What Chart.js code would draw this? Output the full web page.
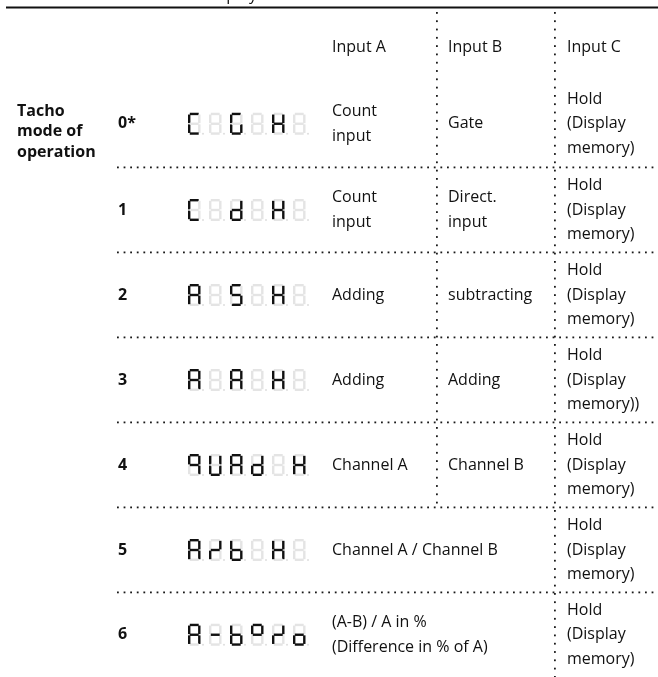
<!DOCTYPE html>
<html><head><meta charset="utf-8">
<script src="https://cdn.jsdelivr.net/npm/chart.js@4"></script>
<style>html,body{margin:0;padding:0;background:#fff;}canvas{display:block}</style>
</head><body>
<canvas id="c" width="658" height="677"></canvas>
<script>
// ---- data ----
const topHeader = 'Display';
const headers = ['Input A', 'Input B', 'Input C'];
const sideLabel = ['Tacho', 'mode of', 'operation'];
const modes = ['0*', '1', '2', '3', '4', '5', '6'];
const displays = [
  ['C', '', 'G', '', 'H', ''],
  ['C', '', 'd', '', 'H', ''],
  ['A', '', 'S', '', 'H', ''],
  ['A', '', 'A', '', 'H', ''],
  ['q', 'U', 'A', 'd', '', 'H'],
  ['A', '/', 'b', '', 'H', ''],
  ['A', '-', 'b', '°', '/', 'o']
];
const inputA = [
  ['Count', 'input'], ['Count', 'input'], ['Adding'], ['Adding'], ['Channel A'],
  ['Channel A / Channel B'], ['(A-B) / A in %', '(Difference in % of A)']
];
const inputB = [['Gate'], ['Direct.', 'input'], ['subtracting'], ['Adding'], ['Channel B'], null, null];
const inputC = [
  ['Hold', '(Display', 'memory)'], ['Hold', '(Display', 'memory)'], ['Hold', '(Display', 'memory)'],
  ['Hold', '(Display', 'memory))'], ['Hold', '(Display', 'memory)'], ['Hold', '(Display', 'memory)'],
  ['Hold', '(Display', 'memory)']
];
// segment letters per glyph
const SEG = {'C':'adef','G':'acdef','H':'bcefg','d':'bcdeg','A':'abcefg','S':'acdfg','q':'abcfg',
  'U':'bcdef','/':'beg','b':'cdefg','-':'g','°':'abfg','o':'cdeg','':''};

// ---- layout ----
const W = 658, H = 677;
const rowLines = [80, 167.5, 252.5, 337.5, 422.5, 507.5, 592.5, 677];
const colX = {side: 17, mode: 118, disp: 188, A: 332, B: 448, C: 567};
const lineB = 437, lineC = 555;
const FONT = '"Open Sans", "Noto Sans", sans-serif';

const tablePlugin = {
  id: 'table',
  afterDraw(chart) {
    const ctx = chart.ctx, sx = chart.scales.x, sy = chart.scales.y;
    const X = v => sx.getPixelForValue(v), Y = v => sy.getPixelForValue(v);
    ctx.save();
    ctx.fillStyle = '#fff';
    ctx.fillRect(0, 0, W, H);
    // top rule
    ctx.fillStyle = '#111';
    ctx.fillRect(X(6), Y(6.5), X(W) - X(6), 2);
    // clipped header text above the rule
    ctx.font = '16px ' + FONT;
    ctx.textBaseline = 'alphabetic';
    ctx.fillText(topHeader, X(203), Y(-0.5));
    // dotted lines
    ctx.fillStyle = '#1a1a1a';
    const hdots = (y, x0, x1) => { for (let x = x0; x <= x1; x += 6.6) ctx.fillRect(X(x), Y(y) - 1, 1.8, 1.8); };
    const vdots = (x, y0, y1) => { for (let y = y0; y <= y1; y += 8.3) ctx.fillRect(X(x) - 1, Y(y), 1.8, 1.8); };
    for (let i = 1; i < rowLines.length - 1; i++) hdots(rowLines[i], 117, W);
    vdots(lineB, 12, rowLines[5]);
    vdots(lineC, 12, H);
    // header texts
    ctx.fillStyle = '#111';
    ctx.font = '16px ' + FONT;
    ctx.textBaseline = 'middle';
    [colX.A, colX.B, colX.C].forEach((x, i) => ctx.fillText(headers[i], X(x), Y(47)));
    // side label
    ctx.font = 'bold 16px ' + FONT;
    sideLabel.forEach((t, i) => ctx.fillText(t, X(colX.side), Y(111 + i * 20.5)));
    const LH = 24.5;
    const cell = (lines, x, cy) => {
      if (!lines) return;
      const n = lines.length;
      lines.forEach((t, i) => ctx.fillText(t, X(x), Y(cy + (i - (n - 1) / 2) * LH)));
    };
    for (let r = 0; r < modes.length; r++) {
      const cy = (rowLines[r] + rowLines[r + 1]) / 2;
      ctx.font = 'bold 16px ' + FONT;
      ctx.fillStyle = '#111';
      ctx.fillText(modes[r], X(colX.mode), Y(cy));
      ctx.font = '16px ' + FONT;
      cell(inputA[r], colX.A, cy);
      cell(inputB[r], colX.B, cy);
      cell(inputC[r], colX.C, cy);
      // seven segment display
      displays[r].forEach((g, i) => drawDigit(ctx, X(colX.disp + i * 21), Y(cy - 11), SEG[g] || ''));
    }
    ctx.restore();
  }
};

function drawDigit(ctx, x0, y0, on) {
  const w = 12.5, h = 22, t = 2.4, gap = 0.6;
  const m = h / 2;
  const segs = {
    a: [x0 + t / 2 + gap, y0, w - t - 2 * gap, t],
    d: [x0 + t / 2 + gap, y0 + h - t, w - t - 2 * gap, t],
    g: [x0 + t / 2 + gap, y0 + m - t / 2, w - t - 2 * gap, t],
    f: [x0, y0 + t / 2 + gap, t, m - t / 2 - 2 * gap],
    e: [x0, y0 + m + gap, t, m - t / 2 - 2 * gap],
    b: [x0 + w - t, y0 + t / 2 + gap, t, m - t / 2 - 2 * gap],
    c: [x0 + w - t, y0 + m + gap, t, m - t / 2 - 2 * gap]
  };
  for (const k of 'abcdefg') {
    const [x, y, ww, hh] = segs[k];
    const lit = on.indexOf(k) >= 0;
    ctx.fillStyle = lit ? '#111' : '#e4e4e4';
    ctx.fillRect(x, y, ww, hh);
  }
  ctx.fillStyle = '#e0e0e0';
  ctx.beginPath();
  ctx.arc(x0 + w + 2.5, y0 + h - 1, 1.1, 0, Math.PI * 2);
  ctx.fill();
}

new Chart(document.getElementById('c'), {
  type: 'scatter',
  data: { datasets: [{ data: [] }] },
  options: {
    responsive: false, animation: false, events: [],
    layout: { padding: 0 },
    plugins: { legend: { display: false }, tooltip: { enabled: false } },
    scales: {
      x: { type: 'linear', min: 0, max: W, display: false },
      y: { type: 'linear', min: 0, max: H, reverse: true, display: false }
    }
  },
  plugins: [tablePlugin]
});
</script>
</body></html>
